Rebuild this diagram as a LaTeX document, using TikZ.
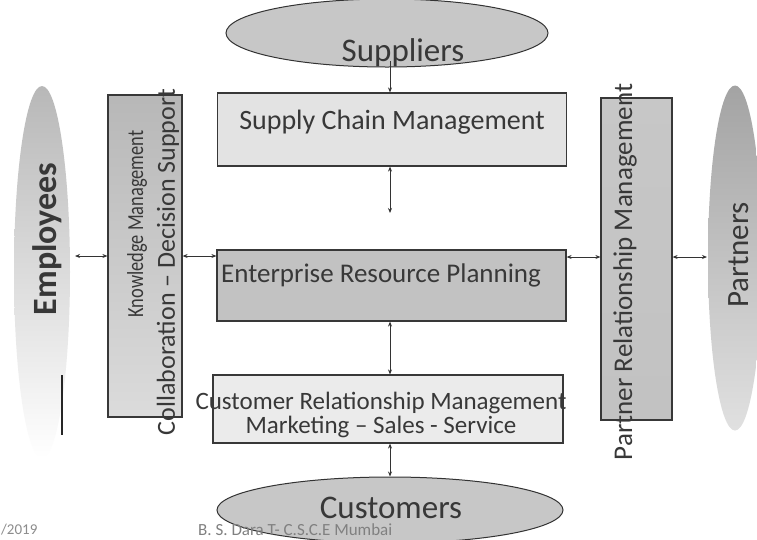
\documentclass[tikz,border=0pt]{standalone}
\usepackage{fontspec}
\setmainfont{Carlito}
\usetikzlibrary{shapes.geometric,arrows.meta}

\newcommand{\fsz}[1]{\fontsize{#1}{#1}\selectfont}

\begin{document}
\begin{tikzpicture}[x=1pt,y=-1pt,
  conn/.style={{Stealth[length=5pt,width=4pt]}-{Stealth[length=5pt,width=4pt]}, line width=0.8pt, draw=black!80},
  oneway/.style={-{Stealth[length=5pt,width=4pt]}, line width=0.8pt, draw=black!80},
  blob/.style={ellipse, draw=black!80, line width=1pt, fill=black!22, inner sep=0pt},
  sideblob/.style={ellipse, draw=none, inner sep=0pt},
  box/.style={rectangle, draw=black!78, line width=1.2pt, inner sep=0pt},
  txt/.style={text=black!78, inner sep=0pt},
]
\fill[white] (0,0) rectangle (757,539);
\useasboundingbox (0,0) rectangle (757,539);

% side stakeholders
\node[sideblob, top color=black!28, bottom color=white,
      minimum width=56pt, minimum height=372pt] (emp) at (42,272) {};
\node[txt, rotate=90, font=\bfseries\fsz{34}] (empl) at (47,239) {Employees};
\draw[line width=1.5pt, black!85] (62,375) -- (62,435);

\node[sideblob, top color=black!36, middle color=black!8, bottom color=black!12,
      minimum width=54pt, minimum height=345pt] (par) at (735,258) {};
\node[txt, rotate=90, font=\fsz{31}] (parl) at (739,255) {Partners};

% suppliers
\node[blob, minimum width=322pt, minimum height=68pt] (sup) at (387,33) {};
\node[txt, font=\fsz{33}] (supl) at (403,53) {Suppliers};

% core boxes
\node[box, fill=black!11, minimum width=349pt, minimum height=73pt] (scm) at (392,129.5) {};
\node[txt, font=\fsz{28}] (scml) at (392,122) {Supply Chain Management};

\node[box, fill=black!24, minimum width=349pt, minimum height=71pt] (erp) at (391.5,285.5) {};
\node[txt, anchor=west, font=\fsz{27}] (erpl) at (221,275) {Enterprise Resource Planning};

\node[box, fill=black!8, minimum width=350pt, minimum height=68pt] (crm) at (388,409) {};
\node[txt, align=center, font=\fontsize{25}{24}\selectfont] (crml) at (381,415)
  {Customer Relationship Management\\Marketing -- Sales - Service};

% side boxes
\node[box, top color=black!28, bottom color=black!14,
      minimum width=74pt, minimum height=322pt] (km) at (145,256) {};
\node[txt, rotate=90, font=\fsz{23}] (kml1) at (137,224) {\scalebox{0.8}[1]{Knowledge Management}};
\node[txt, rotate=90, font=\fsz{26}] (kml2) at (168,262) {Collaboration -- Decision Support};

\node[box, top color=black!22, middle color=black!8, bottom color=black!24,
      minimum width=71pt, minimum height=322pt] (prm) at (636.5,259) {};
\node[txt, rotate=90, font=\fsz{27}] (prml) at (625,272) {Partner Relationship Management};

% customers
\node[blob, minimum width=346pt, minimum height=66pt] (cus) at (390,510) {};
\node[txt, font=\fsz{33}] (cusl) at (391,508) {Customers};

% footer
\node[txt, text=black!45, anchor=west, font=\fsz{15}] (date) at (1,530) {/2019};
\node[txt, text=black!50, anchor=west, font=\fsz{17}] (author) at (198,530) {B. S. Dara T- C.S.C.E Mumbai};

% connectors
\coordinate (spine) at (390,0);
\coordinate (supfoot) at (390,61);
\coordinate (scmgap) at (390,213);
\coordinate (midrow) at (0,256);
\coordinate (empedge) at (75,256);
\coordinate (paredge) at (707,257);

\draw[oneway] (supfoot) -- (scm.north -| supfoot);
\draw[conn] (scm.south -| spine) -- (scmgap);
\draw[conn] (erp.south -| spine) -- (crm.north -| spine);
\draw[conn] (crm.south -| spine) -- (cus.north -| spine);

\draw[conn] (empedge) -- (km.west |- empedge);
\draw[conn] (km.east |- midrow) -- (erp.west |- midrow);
\draw[conn] (erp.east |- paredge) -- (prm.west |- paredge);
\draw[conn] (prm.east |- paredge) -- (paredge);
\end{tikzpicture}
\end{document}
